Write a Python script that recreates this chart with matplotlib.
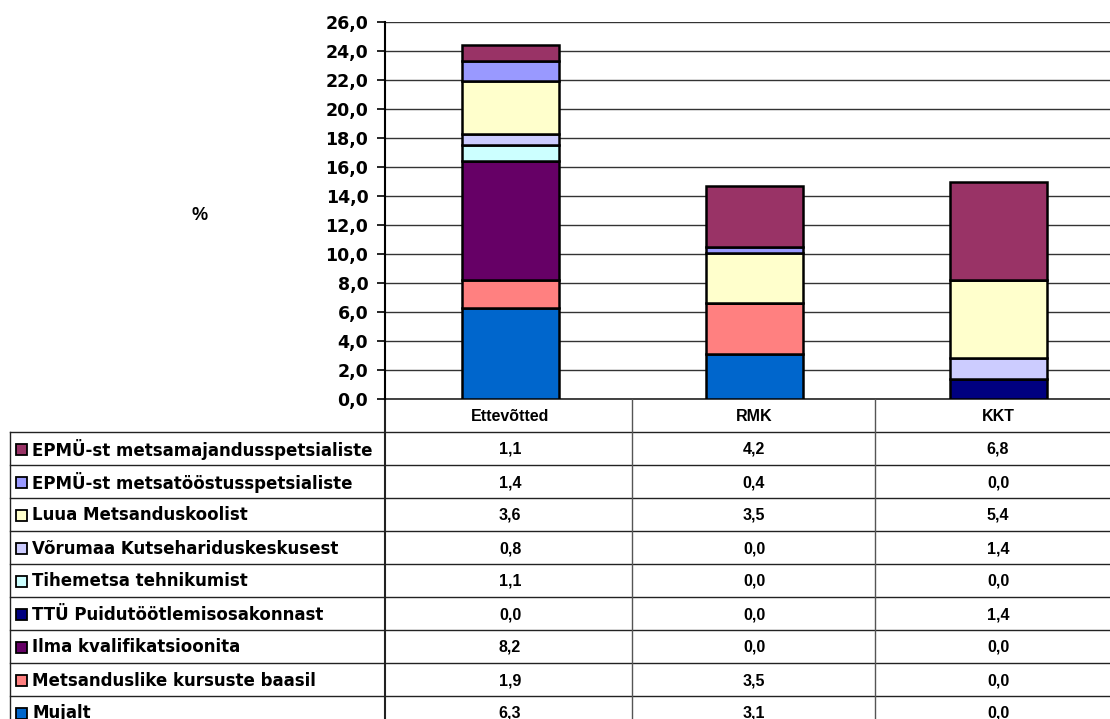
import numpy as np
import matplotlib.pyplot as plt
from matplotlib.patches import Rectangle

plt.rcParams['font.family'] = ['Liberation Sans', 'DejaVu Sans']
plt.rcParams['font.weight'] = 'bold'

categories = ['Ettevõtted', 'RMK', 'KKT']

# series from the bottom of the stack to the top
series_names = [
    'Mujalt',
    'Metsanduslike kursuste baasil',
    'Ilma kvalifikatsioonita',
    'TTÜ Puidutöötlemisosakonnast',
    'Tihemetsa tehnikumist',
    'Võrumaa Kutsehariduskeskusest',
    'Luua Metsanduskoolist',
    'EPMÜ-st metsatööstusspetsialiste',
    'EPMÜ-st metsamajandusspetsialiste',
]
mujalt = [6.3, 3.1, 0.0]
kursused = [1.9, 3.5, 0.0]
ilma_kval = [8.2, 0.0, 0.0]
ttu = [0.0, 0.0, 1.4]
tihemetsa = [1.1, 0.0, 0.0]
vorumaa = [0.8, 0.0, 1.4]
luua = [3.6, 3.5, 5.4]
epmu_toostus = [1.4, 0.4, 0.0]
epmu_majandus = [1.1, 4.2, 6.8]

values = [mujalt, kursused, ilma_kval, ttu, tihemetsa, vorumaa, luua,
          epmu_toostus, epmu_majandus]
colors = ['#0066CC', '#FF8080', '#660066', '#000080', '#CCFFFF', '#CCCCFF',
          '#FFFFCC', '#9999FF', '#993366']

W, H = 1110, 719
fig = plt.figure(figsize=(W / 100, H / 100), dpi=100)

# pixel layout of the plot area and table
x0, col_w = 385, 244
y_axis, y_top = 399, 22
row_h = 33

# table drawn in pixel coordinates on a full-figure axes
tax = fig.add_axes([0, 0, 1, 1])
tax.set_xlim(0, W)
tax.set_ylim(H, 0)
tax.axis('off')

ax = fig.add_axes([x0 / W, (H - y_axis) / H, 3 * col_w / W, (y_axis - y_top) / H])
ax.set_facecolor('none')

index = np.arange(len(categories))
bottom = np.zeros(len(categories))
for vals, col in zip(values, colors):
    ax.bar(index, vals, 0.395, bottom=bottom, color=col, edgecolor='black',
           linewidth=1.8, zorder=3)
    bottom += np.array(vals)

ax.set_xlim(-0.515, 2.485)
ax.set_ylim(0, 26)
ax.set_yticks(np.arange(0, 27, 2))
ax.set_yticklabels([f'{v:.1f}'.replace('.', ',') for v in np.arange(0, 27, 2)],
                   fontsize=12.5, fontweight='bold', family='DejaVu Sans')
ax.set_xticks([])
ax.yaxis.grid(True, color='#333333', linewidth=1.0, zorder=0)
for s in ['top', 'right', 'bottom']:
    ax.spines[s].set_visible(False)
ax.spines['left'].set_linewidth(1.5)
ax.tick_params(axis='y', length=6, width=1.2, pad=6)

fig.text(200 / W, 1 - 215 / H, '%', fontsize=13, fontweight='bold',
         ha='center', va='center')

# table grid
n_rows = len(series_names)
y_bottom = y_axis + row_h * (n_rows + 1)
lc = '#222222'
tax.plot([x0, x0 + 3 * col_w], [y_axis, y_axis], color=lc, lw=1.2)
for r in range(1, n_rows + 1):
    y = y_axis + r * row_h
    tax.plot([10, x0 + 3 * col_w], [y, y], color=lc, lw=1.0)
tax.plot([10, 10], [y_axis + row_h, y_bottom], color=lc, lw=1.0)
tax.plot([x0, x0], [y_axis, y_bottom], color=lc, lw=1.5)
for x in [632, 875]:
    tax.plot([x, x], [y_axis, y_bottom], color='#555555', lw=1.0)

col_centers = [510, 754, 998]
for xc, name in zip(col_centers, categories):
    tax.text(xc, y_axis + row_h / 2 + 1, name,
             fontsize=11.5, fontweight='bold', ha='center', va='center')

for r, idx in enumerate(range(n_rows - 1, -1, -1)):
    yc = y_axis + (r + 1.5) * row_h
    tax.add_patch(Rectangle((16, yc - 5), 11, 11, facecolor=colors[idx],
                            edgecolor='black', lw=1.3))
    tax.text(32, yc + 1, series_names[idx], fontsize=12, fontweight='bold',
             family='DejaVu Sans', ha='left', va='center')
    for c, xc in enumerate(col_centers):
        tax.text(xc, yc + 1, f'{values[idx][c]:.1f}'.replace('.', ','),
                 fontsize=11.5, fontweight='bold', ha='center', va='center')

fig.savefig('out.png', dpi=100)
